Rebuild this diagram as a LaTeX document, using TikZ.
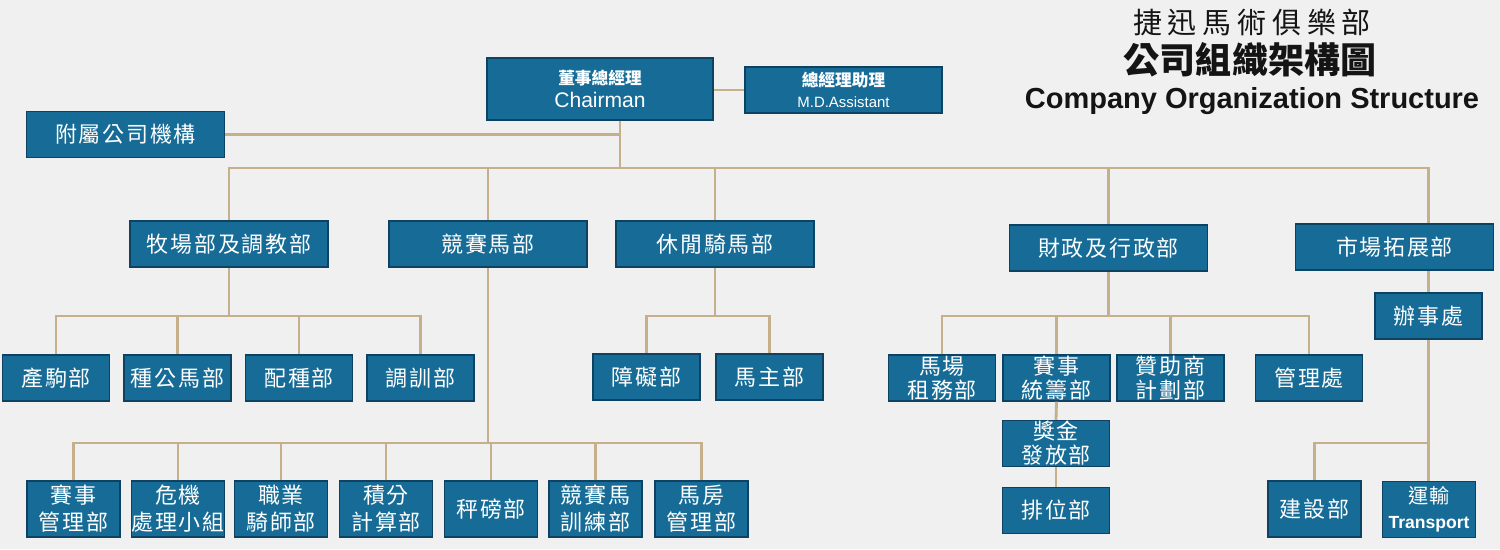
\documentclass[tikz,border=0pt]{standalone}
\usepackage{fontspec}
\setmainfont{Liberation Sans}
\newfontfamily\cjk[LetterSpace=8]{Noto Sans CJK TC}
\newfontfamily\cjktight{Noto Sans CJK TC}
\newfontfamily\cjkwide[LetterSpace=20]{Noto Sans CJK TC}
\usetikzlibrary{positioning,calc}
\definecolor{OrgBlue}{RGB}{22,108,150}
\definecolor{OrgEdge}{RGB}{14,66,98}
\definecolor{OrgLine}{RGB}{198,176,140}
\definecolor{OrgBack}{RGB}{240,240,240}
\definecolor{OrgInk}{RGB}{20,20,20}
\tikzset{
  unit/.style={fill=OrgBlue, draw=OrgEdge, line width=0.8pt, text=white, inner sep=0pt, align=center},
  widebox/.style={unit, minimum width=3.96cm, minimum height=0.92cm, font=\cjk\fontsize{12.5}{14}\selectfont},
  smallbox/.style={unit, minimum width=2.14cm, minimum height=0.92cm, font=\cjk\fontsize{12.5}{13.6}\selectfont},
  lowbox/.style={unit, minimum width=1.86cm, minimum height=1.12cm, font=\cjk\fontsize{12.5}{15.3}\selectfont},
  link/.style={OrgLine, line width=1.6pt}
}

\begin{document}
\begin{tikzpicture}[x=0.02cm, y=-0.02cm]
  % Canvas
  \fill[OrgBack] (0,0) rectangle (1500,549);
  \useasboundingbox (0,0) rectangle (1500,549);

  % Title
  \node[text=OrgInk, font=\cjkwide\fontsize{16.5}{18}\selectfont] (title) at (1252,22) {捷迅馬術俱樂部};
  \node[text=OrgInk, font=\cjktight\bfseries\fontsize{20.5}{22}\selectfont] (titlecn) at (1250,60) {公司組織架構圖};
  \node[text=OrgInk, font=\bfseries\fontsize{16.5}{18}\selectfont] (titleen) at (1252,101) {Company Organization Structure};

  % Top level
  \node[unit, minimum width=4.52cm, minimum height=1.24cm] (chair) at (600,89)
    {{\cjktight\bfseries\fontsize{9.5}{10}\selectfont 董事總經理}\\[1pt]{\fontsize{12}{12}\selectfont Chairman}};
  \node[unit, minimum width=3.94cm, minimum height=0.92cm] (asst) at (843.5,90)
    {{\cjktight\bfseries\fontsize{9.5}{10}\selectfont 總經理助理}\\[0pt]{\fontsize{8.5}{9}\selectfont M.D.Assistant}};
  \node[widebox] (sub) at (125.5,134.5) {附屬公司機構};

  % Departments
  \foreach \n/\x/\y/\t in {ranch/229/244/牧場部及調教部, race/488/244/競賽馬部, leisure/715/244/休閒騎馬部,
                            fin/1108.5/248/財政及行政部, mkt/1394.5/247/市場拓展部}
    \node[widebox] (\n) at (\x,\y) {\t};

  % Sections
  \foreach \n/\x/\y/\t in {foal/56/378/產駒部, stud/177.5/378/種公馬部, breed/299/378/配種部, train/420.5/378/調訓部,
                            hurdle/646.5/377/障礙部, owner/769.5/377/馬主部,
                            lease/942/378/{馬場\\租務部}, coord/1056.5/378/{賽事\\統籌部},
                            sponsor/1170.5/378/{贊助商\\計劃部}, admin/1309/378/管理處,
                            prize/1056/443.5/{獎金\\發放部}, rank/1056/510.5/排位部,
                            office/1428.5/316/辦事處}
    \node[smallbox] (\n) at (\x,\y) {\t};

  \foreach \n/\x/\t in {racemgmt/73.5/{賽事\\管理部}, crisis/178/{危機\\處理小組}, jockey/281/{職業\\騎師部},
                         points/386/{積分\\計算部}, weigh/491/秤磅部, rtrain/595.5/{競賽馬\\訓練部},
                         stable/701.5/{馬房\\管理部}, build/1314.5/建設部}
    \node[lowbox] (\n) at (\x,509) {\t};
  \node[lowbox] (transp) at (1429,509.5)
    {{\cjktight\fontsize{11.5}{12}\selectfont 運輸}\\[-1pt]{\rmfamily\bfseries\fontsize{10}{10}\selectfont Transport}};

  % Bus points
  \coordinate (bus) at (620,168);
  \coordinate (ranchbus) at (229,316);
  \coordinate (racebus) at (488,443);
  \coordinate (leisbus) at (715,316);
  \coordinate (finbus) at (1108.5,316);
  \coordinate (mktbus) at (1428.5,443);

  % Connectors
  \draw[link] (asst.west -| chair.east) -- (asst.west);
  \draw[link] (chair.south -| bus) -- (bus);
  \draw[link] (sub.east) -- (sub.east -| bus);
  \draw[link] (ranch.north) |- (bus -| office) -- (mkt.north -| office);
  \foreach \n in {race,leisure,fin}
    \draw[link] (\n.north) -- (\n.north |- bus);

  \draw[link] (ranch.south) -- (ranchbus);
  \draw[link] (foal.north) |- (ranchbus) -| (train.north);
  \foreach \n in {stud,breed}
    \draw[link] (\n.north) -- (\n.north |- ranchbus);

  \draw[link] (race.south) -- (racebus);
  \draw[link] (racemgmt.north) |- (racebus) -| (stable.north);
  \foreach \n in {crisis,jockey,points,weigh,rtrain}
    \draw[link] (\n.north) -- (\n.north |- racebus);

  \draw[link] (leisure.south) -- (leisbus);
  \draw[link] (hurdle.north) |- (leisbus) -| (owner.north);

  \draw[link] (fin.south) -- (finbus);
  \draw[link] (lease.north) |- (finbus) -| (admin.north);
  \foreach \n in {coord,sponsor}
    \draw[link] (\n.north) -- (\n.north |- finbus);
  \draw[link] (coord.south) -- (prize.north);
  \draw[link] (prize.south) -- (rank.north);

  \draw[link] (mkt.south -| office) -- (office.north);
  \draw[link] (office.south) -- (transp.north -| office);
  \draw[link] (build.north) |- (mktbus);
\end{tikzpicture}
\end{document}
